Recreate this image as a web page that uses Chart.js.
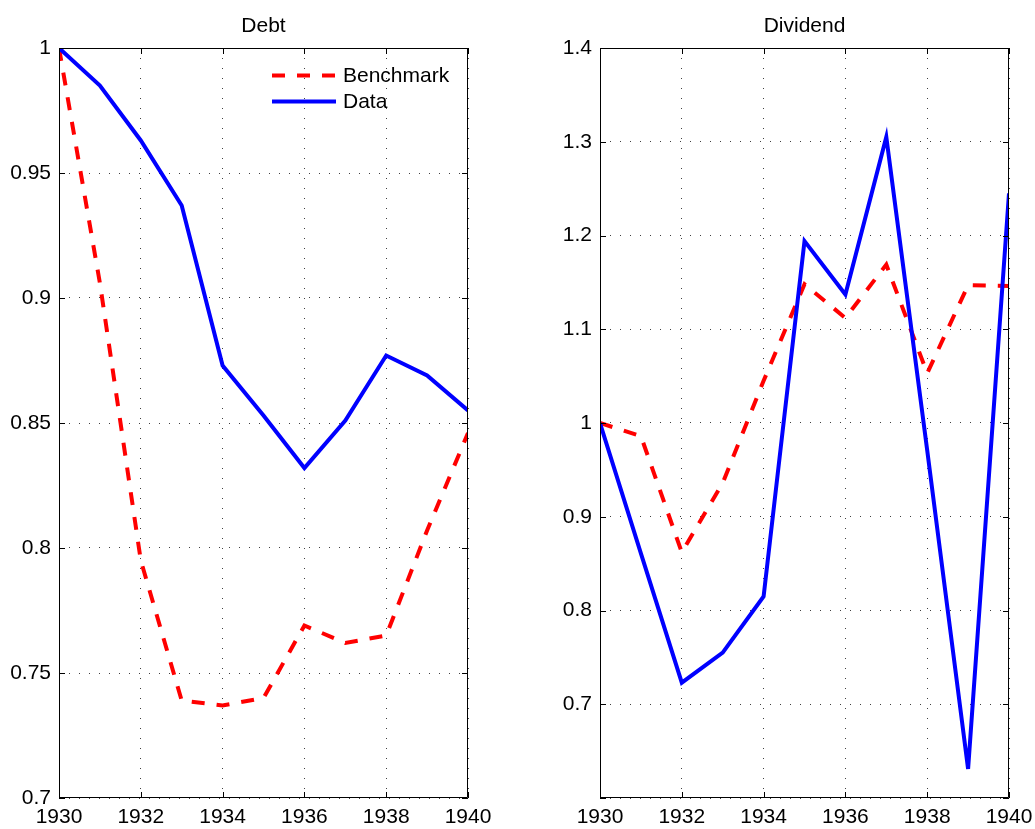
<!DOCTYPE html>
<html>
<head>
<meta charset="utf-8">
<title>Debt and Dividend</title>
<script src="https://cdn.jsdelivr.net/npm/chart.js@4.4.1/dist/chart.umd.min.js"></script>
<style>
    html, body { margin: 0; padding: 0; background: #fff; }
    #wrap { position: relative; width: 1035px; height: 829px; overflow: hidden; }
    canvas { position: absolute; top: 0; }
    #debtChart { left: 0; }
    #dividendChart { left: 517px; }
</style>
</head>
<body>
<div id="wrap">
    <canvas id="debtChart" width="517" height="829"></canvas>
    <canvas id="dividendChart" width="530" height="829"></canvas>
</div>
<script>
const years = [1930, 1931, 1932, 1933, 1934, 1935, 1936, 1937, 1938, 1939, 1940];

const debtBenchmark = [1.0, 0.906, 0.795, 0.739, 0.737, 0.740, 0.769, 0.762, 0.765, 0.807, 0.846];
const debtData      = [1.0, 0.985, 0.963, 0.937, 0.873, 0.853, 0.832, 0.851, 0.877, 0.869, 0.855];

const dividendBenchmark = [1.0, 0.986, 0.862, 0.936, 1.045, 1.148, 1.112, 1.169, 1.053, 1.147, 1.146];
const dividendData      = [1.0, 0.861, 0.723, 0.755, 0.815, 1.194, 1.137, 1.305, 0.971, 0.631, 1.245];

const seriesNames = ["Benchmark", "Data"];
const xTicks = [1930, 1932, 1934, 1936, 1938, 1940];

const FONT = "'Liberation Sans', Arial, Helvetica, sans-serif";
const FONT_SIZE = 21;

Chart.defaults.font.family = FONT;
Chart.defaults.font.size = FONT_SIZE;
Chart.defaults.color = "#000";

function points(values) {
    return years.map((yr, i) => ({ x: yr, y: values[i] }));
}

// box around the plot, inward tick marks, title and the small legend
const framePlugin = {
    id: "frame",
    afterDraw(chart, args, opts) {
        const ctx = chart.ctx;
        const a = chart.chartArea;
        const xs = chart.scales.x;
        const ys = chart.scales.y;
        const tick = 6;

        ctx.save();
        ctx.strokeStyle = "#000";
        ctx.lineWidth = 1;
        ctx.beginPath();
        ctx.rect(a.left + 0.5, a.top + 0.5, a.right - a.left - 1, a.bottom - a.top - 1);
        ctx.stroke();

        ctx.beginPath();
        xs.ticks.forEach(t => {
            const px = Math.round(xs.getPixelForValue(t.value)) + 0.5;
            ctx.moveTo(px, a.bottom);
            ctx.lineTo(px, a.bottom - tick);
            ctx.moveTo(px, a.top);
            ctx.lineTo(px, a.top + tick);
        });
        ys.ticks.forEach(t => {
            const py = Math.round(ys.getPixelForValue(t.value)) + 0.5;
            ctx.moveTo(a.left, py);
            ctx.lineTo(a.left + tick, py);
            ctx.moveTo(a.right, py);
            ctx.lineTo(a.right - tick, py);
        });
        ctx.stroke();

        // title
        ctx.fillStyle = "#000";
        ctx.font = FONT_SIZE + "px " + FONT;
        ctx.textAlign = "center";
        ctx.textBaseline = "alphabetic";
        ctx.fillText(opts.title, (a.left + a.right) / 2, a.top - 16);

        // legend
        if (opts.legend) {
            const rowY = [a.top + 27.5, a.top + 53.5];
            chart.data.datasets.forEach((ds, i) => {
                const y = rowY[i];
                ctx.beginPath();
                ctx.strokeStyle = ds.borderColor;
                ctx.lineWidth = ds.borderWidth;
                ctx.setLineDash(ds.borderDash || []);
                ctx.moveTo(a.right - 196, y);
                ctx.lineTo(a.right - 132, y);
                ctx.stroke();
                ctx.setLineDash([]);
                ctx.textAlign = "left";
                ctx.textBaseline = "middle";
                ctx.fillText(ds.label, a.right - 125, y + 1);
            });
        }
        ctx.restore();
    }
};

function makeChart(canvasId, title, benchmark, data, yMin, yMax, yStep, yAxisWidth, rightPad, showLegend) {
    const ctx = document.getElementById(canvasId).getContext("2d");
    return new Chart(ctx, {
        type: "line",
        data: {
            datasets: [
                {
                    label: seriesNames[0],
                    data: points(benchmark),
                    borderColor: "#ff0000",
                    borderWidth: 4,
                    borderDash: [13, 12],
                    borderCapStyle: "butt",
                    pointRadius: 0,
                    tension: 0,
                    fill: false,
                    order: 2
                },
                {
                    label: seriesNames[1],
                    data: points(data),
                    borderColor: "#0000ff",
                    borderWidth: 4,
                    pointRadius: 0,
                    tension: 0,
                    fill: false,
                    order: 1
                }
            ]
        },
        options: {
            responsive: false,
            animation: false,
            devicePixelRatio: 1,
            layout: {
                padding: { top: 48, right: rightPad, bottom: 0, left: 0 }
            },
            plugins: {
                legend: { display: false },
                tooltip: { enabled: false },
                frame: { title: title, legend: showLegend }
            },
            scales: {
                x: {
                    type: "linear",
                    min: 1930,
                    max: 1940,
                    afterBuildTicks: scale => {
                        scale.ticks = xTicks.map(v => ({ value: v }));
                    },
                    ticks: {
                        padding: 7,
                        maxRotation: 0,
                        callback: v => String(v)
                    },
                    grid: {
                        color: "rgba(0,0,0,0.75)",
                        lineWidth: 1,
                        drawTicks: false
                    },
                    border: { display: false, dash: [1, 9] },
                    afterFit: scale => { scale.height = 31; }
                },
                y: {
                    min: yMin,
                    max: yMax,
                    ticks: {
                        stepSize: yStep,
                        padding: 8,
                        callback: v => (Math.abs(v - 0.6) < 1e-9 && yMin === 0.6) ? "" : String(+v.toFixed(2))
                    },
                    grid: {
                        color: "rgba(0,0,0,0.75)",
                        lineWidth: 1,
                        drawTicks: false
                    },
                    border: { display: false, dash: [1, 9] },
                    afterFit: scale => { scale.width = yAxisWidth; }
                }
            }
        },
        plugins: [framePlugin]
    });
}

makeChart("debtChart", "Debt", debtBenchmark, debtData, 0.7, 1.0, 0.05, 59, 49, true);
makeChart("dividendChart", "Dividend", dividendBenchmark, dividendData, 0.6, 1.4, 0.1, 83, 38, false);
</script>
</body>
</html>
